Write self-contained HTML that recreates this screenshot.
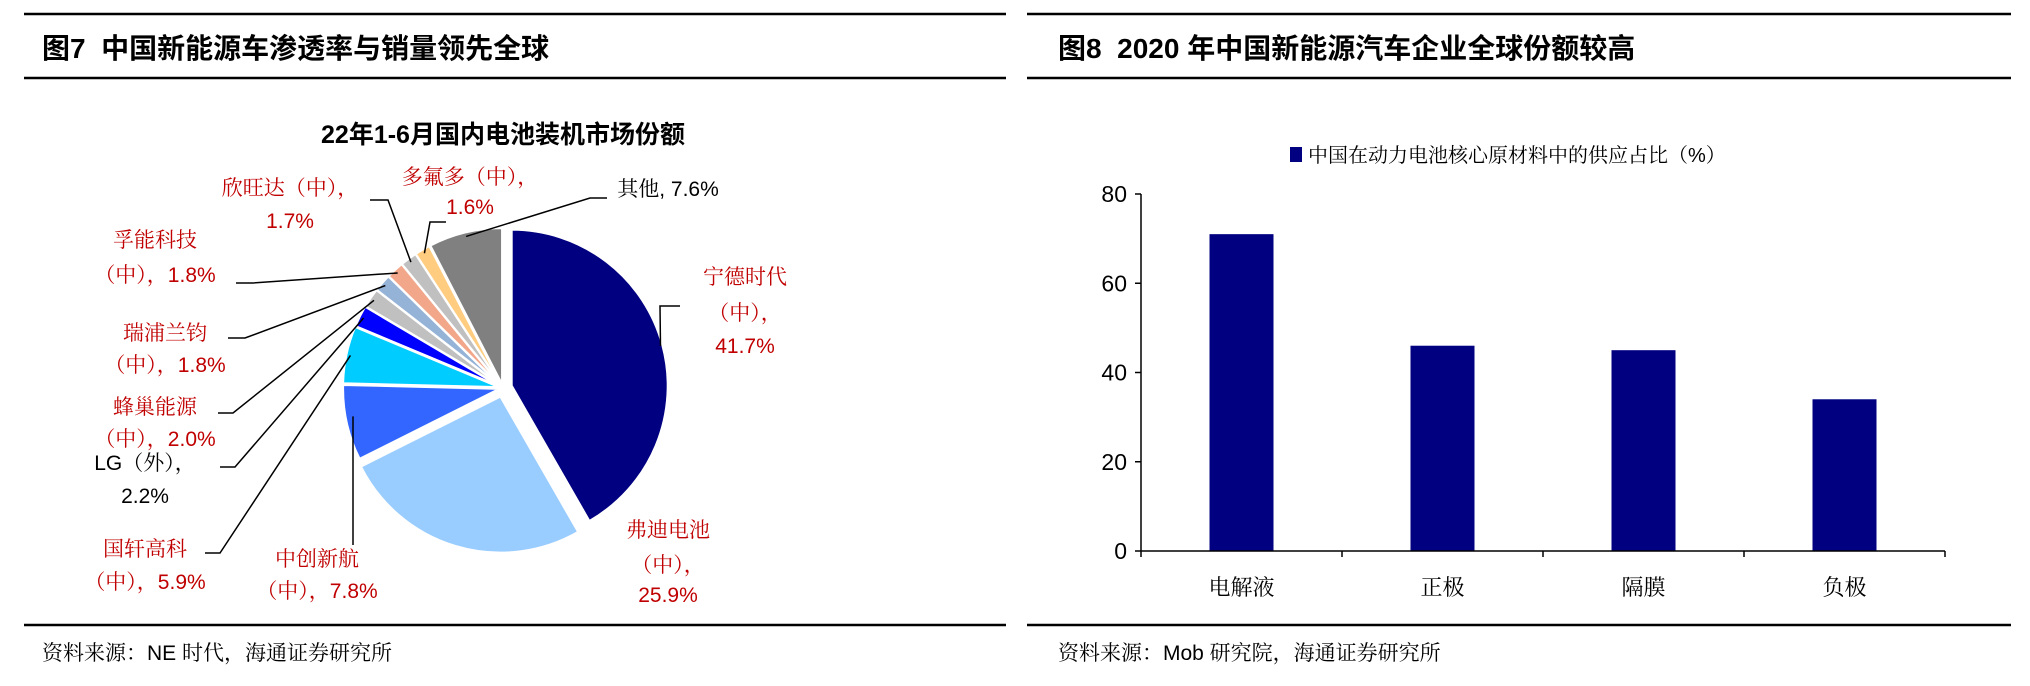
<!DOCTYPE html>
<html><head><meta charset="utf-8">
<style>
html,body{margin:0;padding:0;background:#fff;}
body{width:2030px;height:686px;position:relative;overflow:hidden;font-family:"Liberation Sans","Noto Sans CJK SC",sans-serif;}
svg{position:absolute;left:0;top:0;}
</style></head>
<body>
<svg id="svg" width="2030" height="686" viewBox="0 0 2030 686">
  <!-- Left panel frame -->
  <g stroke="#000" stroke-width="2.5">
    <line x1="24" y1="14" x2="1006" y2="14"/>
    <line x1="24" y1="78" x2="1006" y2="78"/>
    <line x1="24" y1="625" x2="1006" y2="625"/>
    <line x1="1027" y1="14" x2="2011" y2="14"/>
    <line x1="1027" y1="78" x2="2011" y2="78"/>
    <line x1="1027" y1="625" x2="2011" y2="625"/>
  </g>
  <text x="42" y="58" font-size="28" font-weight="bold" font-family="'Liberation Sans','Noto Sans CJK SC',sans-serif">图7&#160;&#160;中国新能源车渗透率与销量领先全球</text>
  <text x="42" y="660" font-size="21" font-family="'Liberation Sans','Noto Serif CJK SC',serif">资料来源：NE 时代，海通证券研究所</text>
  <text x="1058" y="58" font-size="28" font-weight="bold" font-family="'Liberation Sans','Noto Sans CJK SC',sans-serif">图8&#160;&#160;2020 年中国新能源汽车企业全球份额较高</text>
  <text x="1058" y="660" font-size="21" font-family="'Liberation Sans','Noto Serif CJK SC',serif">资料来源：Mob 研究院，海通证券研究所</text>

  <text x="503" y="143" text-anchor="middle" font-size="25" font-weight="bold" font-family="'Liberation Sans','Noto Sans CJK SC',sans-serif">22年1-6月国内电池装机市场份额</text>
  <g id="pie"></g>
  <g id="bar"></g>
</svg>
<script>
// ---- Pie data ----
const pieNames = ["宁德时代","弗迪电池","中创新航","国轩高科","LG（外）","蜂巢能源","瑞浦兰钧","孚能科技","欣旺达","多氟多","其他"];
const pieValues = [41.7,25.9,7.8,5.9,2.2,2.0,1.8,1.8,1.7,1.6,7.6];
const pieColors = ["#000080","#99CCFF","#3366FF","#00CCFF","#0000FF","#C0C0C0","#95B3D7","#F2A68A","#C0C0C0","#FFCC80","#808080"];
// label lines / text (layout)
const pieLabels = [
  {lines:["宁德时代","（中），","41.7%"], x:745, y:[284,320,353], c:"#C00000", elbow:[[680,306],[660,306]]},
  {lines:["弗迪电池","（中），","25.9%"], x:668, y:[537,572,602], c:"#C00000", elbow:null},
  {lines:["中创新航","（中），7.8%"], x:317, y:[566,598], c:"#C00000", elbow:[[353,545]], vert:true},
  {lines:["国轩高科","（中），5.9%"], x:145, y:[556,589], c:"#C00000", elbow:[[205,553],[220,553]]},
  {lines:["LG（外），","2.2%"], x:145, y:[470,503], c:"#000", elbow:[[220,467],[235,467]]},
  {lines:["蜂巢能源","（中），2.0%"], x:155, y:[414,446], c:"#C00000", elbow:[[218,413],[233,413]]},
  {lines:["瑞浦兰钧","（中），1.8%"], x:165, y:[340,372], c:"#C00000", elbow:[[228,338],[245,338]]},
  {lines:["孚能科技","（中），1.8%"], x:155, y:[247,282], c:"#C00000", elbow:[[236,283],[253,283]]},
  {lines:["欣旺达（中），","1.7%"], x:290, y:[195,228], c:"#C00000", elbow:[[370,200],[388,200]]},
  {lines:["多氟多（中），","1.6%"], x:470, y:[184,214], c:"#C00000", elbow:[[446,222],[430,222]]},
  {lines:["其他, 7.6%"], x:668, y:[196], c:"#000", elbow:[[607,198],[590,198]]}
];
const NS="http://www.w3.org/2000/svg";
const pie=document.getElementById('pie');
const cx=503, cy=388, R=156;
const total=pieValues.reduce((a,b)=>a+b,0);
function pt(a,r,ox,oy){return [cx+ox+r*Math.sin(a), cy+oy-r*Math.cos(a)];}
let ang=0;
pieValues.forEach((v,i)=>{
  const a0=ang, a1=ang+v/total*2*Math.PI; ang=a1;
  const mid=(a0+a1)/2;
  const ex = i<2 ? 9 : 4;
  const ox=ex*Math.sin(mid), oy=-ex*Math.cos(mid);
  const p0=pt(a0,R,ox,oy), p1=pt(a1,R,ox,oy);
  const large=(a1-a0)>Math.PI?1:0;
  const path=document.createElementNS(NS,'path');
  path.setAttribute('d',`M${cx+ox},${cy+oy} L${p0[0]},${p0[1]} A${R},${R} 0 ${large} 1 ${p1[0]},${p1[1]} Z`);
  path.setAttribute('fill',pieColors[i]);
  path.setAttribute('stroke','#fff');
  path.setAttribute('stroke-width','2');
  
  
  pie.appendChild(path);
  const L=pieLabels[i];
  if(L.elbow){
    const rr = i===0 ? R-2 : (i===2? R-30 : R-4);
    const e=pt(mid,rr,ox,oy);
    let pts=L.elbow.map(p=>p.join(',')).join(' ');
    if(L.vert){ pts=`${L.elbow[0][0]},${L.elbow[0][1]} ${L.elbow[0][0]},${e[1]}`; }
    else pts=pts+' '+e[0]+','+e[1];
    const pl=document.createElementNS(NS,'polyline');
    pl.setAttribute('points',pts);
    pl.setAttribute('fill','none');
    pl.setAttribute('stroke','#000');
    pl.setAttribute('stroke-width','1.5');
    
    
    pie.appendChild(pl);
  }
  L.lines.forEach((s,k)=>{
    const t=document.createElementNS(NS,'text');
    t.setAttribute('x',L.x); t.setAttribute('y',L.y[k]);
    t.setAttribute('text-anchor','middle');
    t.setAttribute('font-size','21');
    t.setAttribute('fill',L.c);
    t.setAttribute('font-family',"'Liberation Sans','Noto Serif CJK SC',serif");
    t.textContent=s;
    
    
    pie.appendChild(t);
  });
});

// ---- Bar data ----
const barCategories = ["电解液","正极","隔膜","负极"];
const barValues = [71,46,45,34];
const yTicks = [0,20,40,60,80];
const bar=document.getElementById('bar');
const x0=1141, x1=1945, yTop=194, yBot=551, yMax=80;
const ys=v=>yBot-(v/yMax)*(yBot-yTop);
const bw=(x1-x0)/barCategories.length;
function el(tag,attrs,name,txt){const e=document.createElementNS(NS,tag);for(const k in attrs)e.setAttribute(k,attrs[k]);
  
  
  if(txt!==undefined)e.textContent=txt;bar.appendChild(e);return e;}
// legend
el('rect',{x:1290,y:147,width:12,height:15,fill:'#000080'},'legend-swatch');
el('text',{x:1308,y:162,'font-size':20,'font-family':"'Liberation Sans','Noto Serif CJK SC',serif"},'legend-label','中国在动力电池核心原材料中的供应占比（%）');
// bars
barValues.forEach((v,i)=>{
  const cxb=x0+bw*(i+0.5);
  const r=el('rect',{x:cxb-32,y:ys(v),width:64,height:yBot-ys(v),fill:'#000080'},'bar-'+barCategories[i]);
  
  el('text',{x:cxb,y:595,'text-anchor':'middle','font-size':22,'font-family':"'Liberation Sans','Noto Serif CJK SC',serif"},'x-tick-label',barCategories[i]);
});
// axes
el('line',{x1:x0,y1:yTop,x2:x0,y2:yBot,stroke:'#000','stroke-width':1.5},'y-axis');
el('line',{x1:x0,y1:yBot,x2:x1,y2:yBot,stroke:'#000','stroke-width':1.5},'x-axis');
yTicks.forEach(t=>{
  el('line',{x1:x0-6,y1:ys(t),x2:x0,y2:ys(t),stroke:'#000','stroke-width':1.5},'y-tick');
  el('text',{x:x0-14,y:ys(t)+8,'text-anchor':'end','font-size':23},'y-tick-label',String(t));
});
for(let i=0;i<=barCategories.length;i++){
  el('line',{x1:x0+bw*i,y1:yBot,x2:x0+bw*i,y2:yBot+6,stroke:'#000','stroke-width':1.5},'x-tick');
}
</script>
</body></html>
